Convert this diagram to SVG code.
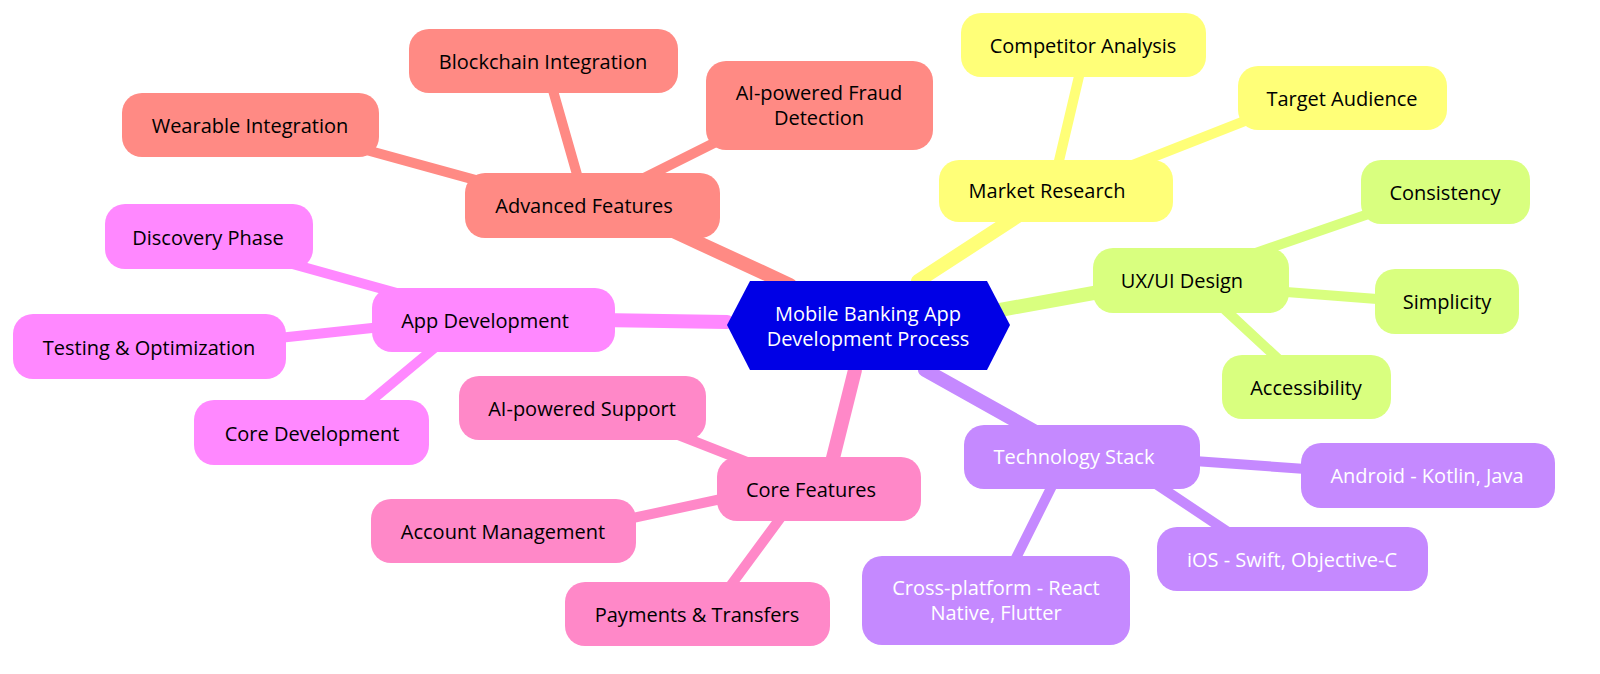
<svg xmlns="http://www.w3.org/2000/svg" width="1600" height="674" viewBox="0 0 1600 674">
<style>
text{font-family:"Open Sans","Liberation Sans",sans-serif;font-size:20px;text-anchor:middle;dominant-baseline:central;fill:#000}
.w{fill:#fff}
.e line{stroke-linecap:round}
.y{fill:#ffff78}.g{fill:#d9ff7f}.p{fill:#c589ff}.k{fill:#ff88c8}.m{fill:#ff88ff}.r{fill:#ff8a84}
</style>
<g id="connectors" class="e">
<g stroke="#ffff78" stroke-width="10"><line x1="1058" y1="165" x2="1080" y2="72"/><line x1="1120" y1="170" x2="1260" y2="115"/></g>
<line x1="918" y1="281" x2="1024" y2="212" stroke="#ffff78" stroke-width="14"/>
<g stroke="#d9ff7f" stroke-width="10"><line x1="1250" y1="255" x2="1380" y2="210"/><line x1="1260" y1="290" x2="1390" y2="300"/><line x1="1220" y1="305" x2="1290" y2="370"/></g>
<line x1="1000" y1="310" x2="1110" y2="290" stroke="#d9ff7f" stroke-width="14"/>
<g stroke="#c589ff" stroke-width="10"><line x1="1180" y1="460" x2="1320" y2="470"/><line x1="1150" y1="480" x2="1240" y2="540"/><line x1="1060" y1="470" x2="1010" y2="570"/></g>
<line x1="925" y1="370" x2="1050" y2="440" stroke="#c589ff" stroke-width="14"/>
<g stroke="#ff88c8" stroke-width="10"><line x1="780" y1="475" x2="640" y2="420"/><line x1="740" y1="495" x2="600" y2="525"/><line x1="790" y1="505" x2="720" y2="600"/></g>
<line x1="855" y1="370" x2="830" y2="470" stroke="#ff88c8" stroke-width="14"/>
<g stroke="#ff88ff" stroke-width="10"><line x1="440" y1="305" x2="260" y2="255"/><line x1="400" y1="325" x2="260" y2="340"/><line x1="450" y1="335" x2="360" y2="410"/></g>
<line x1="727" y1="322" x2="600" y2="320" stroke="#ff88ff" stroke-width="14"/>
<g stroke="#ff8a84" stroke-width="10"><line x1="530" y1="195" x2="330" y2="140"/><line x1="580" y1="185" x2="550" y2="80"/><line x1="630" y1="185" x2="760" y2="120"/></g>
<line x1="790" y1="285" x2="660" y2="225" stroke="#ff8a84" stroke-width="14"/>
</g>
<g id="root"><polygon points="750,281 987,281 1010,325 987,370 750,370 727,325" fill="#0000e6"/><text class="w" x="868" y="313">Mobile Banking App</text><text class="w" x="868" y="338">Development Process</text></g>
<g id="market"><rect class="y" x="939" y="160" width="234" height="62" rx="20"/><text x="1047" y="190">Market Research</text></g>
<g id="competitor"><rect class="y" x="961" y="13" width="245" height="64" rx="20"/><text x="1083" y="45">Competitor Analysis</text></g>
<g id="target"><rect class="y" x="1238" y="66" width="209" height="64" rx="20"/><text x="1342" y="98">Target Audience</text></g>
<g id="ux"><rect class="g" x="1093" y="248" width="196" height="65" rx="20"/><text x="1182" y="280">UX/UI Design</text></g>
<g id="consistency"><rect class="g" x="1361" y="160" width="169" height="64" rx="20"/><text x="1445" y="192">Consistency</text></g>
<g id="simplicity"><rect class="g" x="1375" y="269" width="144" height="65" rx="20"/><text x="1447" y="301">Simplicity</text></g>
<g id="accessibility"><rect class="g" x="1222" y="355" width="169" height="64" rx="20"/><text x="1306" y="387">Accessibility</text></g>
<g id="tech"><rect class="p" x="964" y="425" width="236" height="64" rx="20"/><text class="w" x="1074" y="456">Technology Stack</text></g>
<g id="android"><rect class="p" x="1301" y="443" width="254" height="65" rx="20"/><text class="w" x="1427" y="475">Android - Kotlin, Java</text></g>
<g id="ios"><rect class="p" x="1157" y="527" width="271" height="64" rx="20"/><text class="w" x="1292" y="559">iOS - Swift, Objective-C</text></g>
<g id="cross"><rect class="p" x="862" y="556" width="268" height="89" rx="20"/><text class="w" x="996" y="587">Cross-platform - React</text><text class="w" x="996" y="612">Native, Flutter</text></g>
<g id="core"><rect class="k" x="717" y="457" width="204" height="64" rx="20"/><text x="811" y="489">Core Features</text></g>
<g id="aisupport"><rect class="k" x="459" y="376" width="247" height="64" rx="20"/><text x="582" y="408">AI-powered Support</text></g>
<g id="account"><rect class="k" x="371" y="499" width="265" height="64" rx="20"/><text x="503" y="531">Account Management</text></g>
<g id="payments"><rect class="k" x="565" y="582" width="265" height="64" rx="20"/><text x="697" y="614">Payments &amp; Transfers</text></g>
<g id="appdev"><rect class="m" x="372" y="288" width="243" height="64" rx="20"/><text x="485" y="320">App Development</text></g>
<g id="discovery"><rect class="m" x="105" y="204" width="208" height="65" rx="20"/><text x="208" y="237">Discovery Phase</text></g>
<g id="testing"><rect class="m" x="13" y="314" width="273" height="65" rx="20"/><text x="149" y="347">Testing &amp; Optimization</text></g>
<g id="coredev"><rect class="m" x="194" y="400" width="235" height="65" rx="20"/><text x="312" y="433">Core Development</text></g>
<g id="advanced"><rect class="r" x="465" y="173" width="255" height="65" rx="20"/><text x="584" y="205">Advanced Features</text></g>
<g id="wearable"><rect class="r" x="122" y="93" width="257" height="64" rx="20"/><text x="250" y="125">Wearable Integration</text></g>
<g id="blockchain"><rect class="r" x="409" y="29" width="269" height="64" rx="20"/><text x="543" y="61">Blockchain Integration</text></g>
<g id="fraud"><rect class="r" x="706" y="61" width="227" height="89" rx="20"/><text x="819" y="92">AI-powered Fraud</text><text x="819" y="117">Detection</text></g>
</svg>
